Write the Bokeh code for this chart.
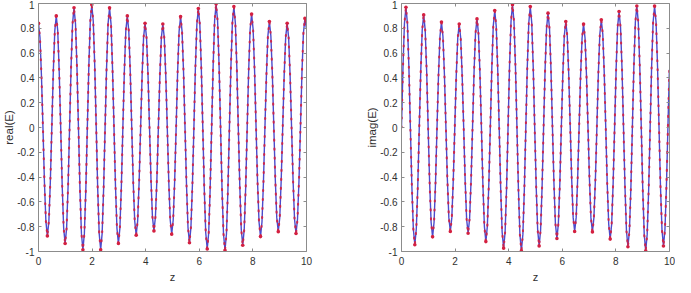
from bokeh.plotting import figure
from bokeh.models import (Range1d, LinearAxis, FixedTicker, ColumnDataSource,
                          CustomLabelingPolicy)
from bokeh.layouts import row
from bokeh.embed import file_html
from bokeh.resources import INLINE

# z samples (12 per oscillation period)
z = [
    0.000, 0.055, 0.110, 0.166, 0.221, 0.276, 0.331, 0.387, 0.442, 0.497, 0.552, 0.608,
    0.663, 0.718, 0.773, 0.828, 0.884, 0.939, 0.994, 1.049, 1.105, 1.160, 1.215, 1.270,
    1.325, 1.381, 1.436, 1.491, 1.546, 1.602, 1.657, 1.712, 1.767, 1.822, 1.878, 1.933,
    1.988, 2.043, 2.099, 2.154, 2.209, 2.264, 2.320, 2.375, 2.430, 2.485, 2.540, 2.596,
    2.651, 2.706, 2.761, 2.817, 2.872, 2.927, 2.982, 3.037, 3.093, 3.148, 3.203, 3.258,
    3.314, 3.369, 3.424, 3.479, 3.534, 3.590, 3.645, 3.700, 3.755, 3.811, 3.866, 3.921,
    3.976, 4.031, 4.087, 4.142, 4.197, 4.252, 4.308, 4.363, 4.418, 4.473, 4.529, 4.584,
    4.639, 4.694, 4.749, 4.805, 4.860, 4.915, 4.970, 5.026, 5.081, 5.136, 5.191, 5.246,
    5.302, 5.357, 5.412, 5.467, 5.523, 5.578, 5.633, 5.688, 5.743, 5.799, 5.854, 5.909,
    5.964, 6.020, 6.075, 6.130, 6.185, 6.240, 6.296, 6.351, 6.406, 6.461, 6.517, 6.572,
    6.627, 6.682, 6.738, 6.793, 6.848, 6.903, 6.959, 7.014, 7.069, 7.124, 7.179, 7.235,
    7.290, 7.345, 7.400, 7.455, 7.511, 7.566, 7.621, 7.676, 7.732, 7.787, 7.842, 7.897,
    7.952, 8.008, 8.063, 8.118, 8.173, 8.229, 8.284, 8.339, 8.394, 8.449, 8.505, 8.560,
    8.615, 8.670, 8.726, 8.781, 8.836, 8.891, 8.947, 9.002, 9.057, 9.112, 9.167, 9.223,
    9.278, 9.333, 9.388, 9.443, 9.499, 9.554, 9.609, 9.664, 9.720, 9.775, 9.830, 9.885,
    9.941, 9.996,
]

real_E = [
    0.840, 0.727, 0.420, 0.0, -0.437, -0.757, -0.874, -0.757, -0.437, 0.0, 0.450, 0.779,
    0.900, 0.779, 0.450, 0.0, -0.468, -0.811, -0.936, -0.811, -0.468, 0.0, 0.483, 0.836,
    0.965, 0.836, 0.483, 0.0, -0.493, -0.854, -0.986, -0.854, -0.493, 0.0, 0.495, 0.857,
    0.990, 0.857, 0.495, 0.0, -0.493, -0.854, -0.986, -0.854, -0.493, 0.0, 0.483, 0.836,
    0.965, 0.836, 0.483, 0.0, -0.468, -0.811, -0.936, -0.811, -0.468, 0.0, 0.450, 0.779,
    0.900, 0.779, 0.450, 0.0, -0.435, -0.753, -0.869, -0.753, -0.435, 0.0, 0.420, 0.727,
    0.840, 0.727, 0.420, 0.0, -0.417, -0.722, -0.834, -0.722, -0.417, 0.0, 0.418, 0.723,
    0.835, 0.723, 0.418, 0.0, -0.431, -0.746, -0.861, -0.746, -0.431, 0.0, 0.448, 0.775,
    0.895, 0.775, 0.448, 0.0, -0.465, -0.805, -0.930, -0.805, -0.465, 0.0, 0.480, 0.831,
    0.960, 0.831, 0.480, 0.0, -0.490, -0.849, -0.980, -0.849, -0.490, 0.0, 0.498, 0.862,
    0.995, 0.862, 0.498, 0.0, -0.495, -0.857, -0.990, -0.857, -0.495, 0.0, 0.488, 0.844,
    0.975, 0.844, 0.488, 0.0, -0.475, -0.823, -0.950, -0.823, -0.475, 0.0, 0.458, 0.792,
    0.915, 0.792, 0.458, 0.0, -0.440, -0.762, -0.880, -0.762, -0.440, 0.0, 0.428, 0.740,
    0.855, 0.740, 0.428, 0.0, -0.420, -0.727, -0.840, -0.727, -0.420, 0.0, 0.420, 0.727,
    0.840, 0.727, 0.420, 0.0, -0.428, -0.740, -0.855, -0.740, -0.428, 0.0, 0.440, 0.762,
    0.880, 0.800,
]

imag_E = [
    0.0, 0.485, 0.840, 0.970, 0.840, 0.485, 0.0, -0.473, -0.819, -0.946, -0.819, -0.473,
    0.0, 0.454, 0.786, 0.908, 0.786, 0.454, 0.0, -0.441, -0.764, -0.882, -0.764, -0.441,
    0.0, 0.425, 0.736, 0.850, 0.736, 0.425, 0.0, -0.420, -0.727, -0.839, -0.727, -0.420,
    0.0, 0.417, 0.722, 0.834, 0.722, 0.417, 0.0, -0.427, -0.739, -0.853, -0.739, -0.427,
    0.0, 0.438, 0.759, 0.876, 0.759, 0.438, 0.0, -0.460, -0.797, -0.920, -0.797, -0.460,
    0.0, 0.472, 0.818, 0.944, 0.818, 0.472, 0.0, -0.487, -0.843, -0.973, -0.843, -0.487,
    0.0, 0.495, 0.857, 0.990, 0.857, 0.495, 0.0, -0.498, -0.862, -0.995, -0.862, -0.498,
    0.0, 0.488, 0.845, 0.976, 0.845, 0.488, 0.0, -0.478, -0.827, -0.955, -0.827, -0.478,
    0.0, 0.461, 0.798, 0.922, 0.798, 0.461, 0.0, -0.448, -0.775, -0.895, -0.775, -0.448,
    0.0, 0.428, 0.740, 0.855, 0.740, 0.428, 0.0, -0.420, -0.727, -0.839, -0.727, -0.420,
    0.0, 0.417, 0.722, 0.834, 0.722, 0.417, 0.0, -0.421, -0.729, -0.842, -0.729, -0.421,
    0.0, 0.434, 0.752, 0.868, 0.752, 0.434, 0.0, -0.450, -0.779, -0.900, -0.779, -0.450,
    0.0, 0.468, 0.810, 0.935, 0.810, 0.468, 0.0, -0.481, -0.833, -0.962, -0.833, -0.481,
    0.0, 0.490, 0.849, 0.980, 0.849, 0.490, 0.0, -0.498, -0.862, -0.995, -0.862, -0.498,
    0.0, 0.490, 0.849, 0.980, 0.849, 0.490, 0.0, -0.478, -0.827, -0.955, -0.827, -0.478,
    0.0, 0.465,
]

x_ticks = [0, 2, 4, 6, 8, 10]
x_tick_labels = ["0", "2", "4", "6", "8", "10"]
y_ticks = [-1, -0.8, -0.6, -0.4, -0.2, 0, 0.2, 0.4, 0.6, 0.8, 1]
y_tick_labels = ["-1", "-0.8", "-0.6", "-0.4", "-0.2", "0", "0.2", "0.4", "0.6", "0.8", "1"]

FONT = "Liberation Sans"
AXIS_GRAY = "#8c8c8c"
TEXT = "#303030"
LINE_BLUE = "#4b4bcc"
DOT_RED = "#d42040"

source = ColumnDataSource(dict(z=z, real=real_E, imag=imag_E))
# turning points of each curve (red clusters at the tips in the picture)
real_ext = ColumnDataSource(dict(z=z[0::6], v=real_E[0::6]))
imag_ext = ColumnDataSource(dict(z=z[3::6], v=imag_E[3::6]))

NO_LABELS = CustomLabelingPolicy(code="""
    try { for (const i of [...indices]) indices.unset(i) } catch (e) {}
    return indices
""")


def style_axis(ax, ticks, labels, show_labels):
    ax.ticker = FixedTicker(ticks=ticks)
    ax.major_label_overrides = {t: s for t, s in zip(ticks, labels)}
    ax.major_tick_in = 3
    ax.major_tick_out = 0
    ax.minor_tick_in = 0
    ax.minor_tick_out = 0
    ax.axis_line_color = AXIS_GRAY
    ax.major_tick_line_color = AXIS_GRAY
    ax.major_label_text_font = FONT
    ax.major_label_text_color = TEXT
    ax.axis_label_text_font = FONT
    ax.axis_label_text_color = TEXT
    ax.axis_label_text_font_style = "normal"
    if show_labels:
        ax.major_label_text_font_size = "10px"
    else:
        ax.major_label_text_font_size = "0px"
        ax.major_label_standoff = 0
        ax.major_label_policy = NO_LABELS


def make_panel(col, ext, ylabel, width, border_right):
    p = figure(width=width, height=285, x_range=Range1d(0, 10), y_range=Range1d(-1, 1),
               output_backend="svg", toolbar_location=None,
               min_border_left=31, min_border_right=border_right,
               min_border_top=3, min_border_bottom=34)
    p.grid.visible = False
    p.outline_line_color = None
    p.background_fill_color = "white"
    p.border_fill_color = "white"

    style_axis(p.xaxis[0], x_ticks, x_tick_labels, True)
    style_axis(p.yaxis[0], y_ticks, y_tick_labels, True)
    p.xaxis.axis_label = "z"
    p.xaxis.axis_label_text_font_size = "11px"
    p.xaxis.major_label_standoff = 5
    p.xaxis.axis_label_standoff = 3
    p.yaxis.axis_label = ylabel
    p.yaxis.axis_label_text_font_size = "11.5px"
    p.yaxis.major_label_standoff = 4
    p.yaxis.axis_label_standoff = -1

    top = LinearAxis()
    style_axis(top, x_ticks, x_tick_labels, False)
    p.add_layout(top, "above")
    right = LinearAxis()
    style_axis(right, y_ticks, y_tick_labels, False)
    p.add_layout(right, "right")

    p.line("z", col, source=source, line_color=LINE_BLUE, line_width=1.4)
    # red sample dots running along the curve
    p.line("z", col, source=source, line_color=DOT_RED, line_width=2.1,
           line_dash="1 8", line_cap="round", line_alpha=0.9)
    p.scatter("z", "v", source=ext, marker="circle", size=3.6,
              fill_color=DOT_RED, line_color=None)
    return p


p1 = make_panel("real", real_ext, "real(E)", 363, 57)
p2 = make_panel("imag", imag_ext, "imag(E)", 312, 6)
layout = row(p1, p2)

open("out.html", "w").write(file_html(layout, INLINE))
